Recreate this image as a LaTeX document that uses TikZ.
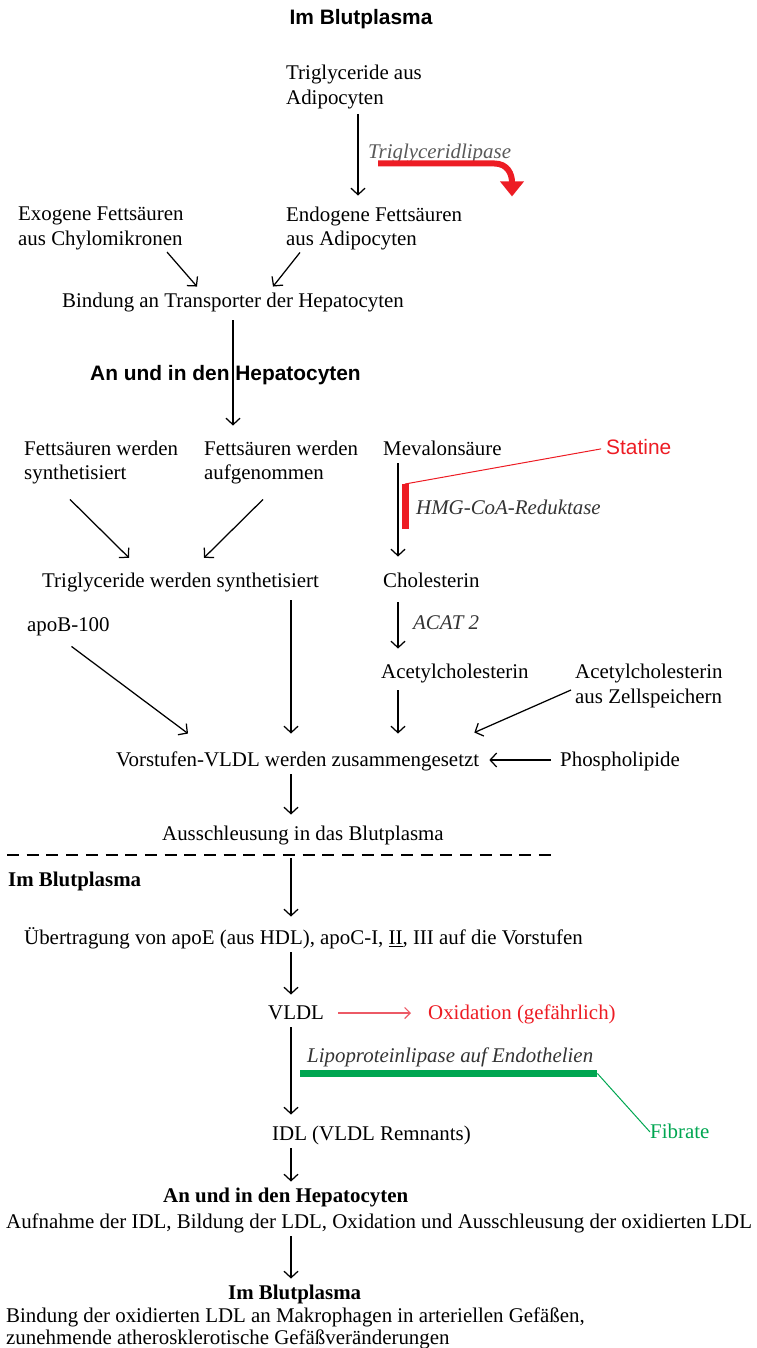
\documentclass[tikz,border=0pt]{standalone}
\usepackage{fontspec}
\setmainfont{Liberation Serif}
\setsansfont{Liberation Sans}
\usetikzlibrary{arrows.meta}
\definecolor{statred}{RGB}{237,28,36}
\definecolor{oxred}{RGB}{236,90,102}
\definecolor{fibgreen}{RGB}{0,166,81}
\newcommand{\bodyfont}{\fontsize{20.9}{24.5}\selectfont}

\begin{document}
\begin{tikzpicture}[
    x=1pt, y=-1pt,
    every node/.style={inner xsep=0pt, inner ysep=5pt, font=\bodyfont},
    txt/.style={anchor=west, text height=16pt, text depth=2.5pt},
    txtm/.style={anchor=west, align=left},
    enz/.style={txt, font=\bodyfont\itshape, text=black!80},
    head/.style={txt, font=\bodyfont\sffamily\bfseries},
    headrm/.style={txt, font=\bodyfont\bfseries},
    arrow/.style={-{Straight Barb[length=6.5pt,width=14pt]}, line width=1.25pt},
    inhib/.style={line width=7pt}
  ]
  \useasboundingbox (0,0) rectangle (756,1348);

  % columns of the vertical arrows
  \coordinate (tx) at (358,0);
  \coordinate (bx) at (233,0);
  \coordinate (cx) at (398,0);
  \coordinate (ax) at (291,0);

  \node[head, anchor=center] (blut1) at (361,18) {Im Blutplasma};
  \node[txtm] (tgadipo) at (286,87) {Triglyceride aus\\Adipocyten};
  \node[enz, text=black!65] (tglip) at (368,152) {Triglyceridlipase};
  \node[txtm] (exo) at (18,228.5) {Exogene Fettsäuren\\aus Chylomikronen};
  \node[txtm] (endo) at (286,228.5) {Endogene Fettsäuren\\aus Adipocyten};
  \node[txt] (bind) at (62,301) {Bindung an Transporter der Hepatocyten};
  \node[head] (hep1) at (90,374) {An und in den Hepatocyten};

  \node[txtm] (fssyn) at (24,462.5) {Fettsäuren werden\\synthetisiert};
  \node[txtm] (fsauf) at (204,462.5) {Fettsäuren werden\\aufgenommen};
  \node[txt] (meval) at (383,449) {Mevalonsäure};
  \node[txt, font=\bodyfont\sffamily, text=statred] (statine) at (606,448) {Statine};
  \node[enz] (hmg) at (416,508) {HMG-CoA-Reduktase};
  \node[txt] (tgsyn) at (42,581) {Triglyceride werden synthetisiert};
  \node[txt] (chol) at (383,581) {Cholesterin};
  \node[txt] (apob) at (27,625) {apoB-100};
  \node[enz] (acat) at (413,623) {ACAT 2};
  \node[txt] (acetyl) at (381,672) {Acetylcholesterin};
  \node[txtm] (acetzell) at (575,686) {Acetylcholesterin\\aus Zellspeichern};
  \node[txt] (vorst) at (116,760) {Vorstufen-VLDL werden zusammengesetzt};
  \node[txt] (phospho) at (560,760) {Phospholipide};
  \node[txt] (aussch) at (162,834) {Ausschleusung in das Blutplasma};

  \node[headrm] (blut2) at (8,880) {Im Blutplasma};
  \node[txt] (uebertr) at (24,938) {Übertragung von apoE (aus HDL), apoC-I, \underline{II}, III auf die Vorstufen};
  \node[txt] (vldl) at (268,1013) {VLDL};
  \node[txt, text=statred] (oxid) at (428,1013) {Oxidation (gefährlich)};
  \node[enz] (lpl) at (307,1056) {Lipoproteinlipase auf Endothelien};
  \node[txt, text=fibgreen] (fibrate) at (650,1132) {Fibrate};
  \node[txt] (idl) at (272,1134) {IDL (VLDL Remnants)};
  \node[headrm] (hep2) at (163,1196) {An und in den Hepatocyten};
  \node[txt] (aufn) at (6,1222) {Aufnahme der IDL, Bildung der LDL, Oxidation und Ausschleusung der oxidierten LDL};
  \node[headrm] (blut3) at (228,1293) {Im Blutplasma};
  \node[txtm, font=\fontsize{20.9}{22}\selectfont] (makro) at (6,1328.5) {Bindung der oxidierten LDL an Makrophagen in arteriellen Gefäßen,\\zunehmende atherosklerotische Gefäßveränderungen};

  % Blutplasma oben
  \draw[arrow, shorten >=6pt] (tgadipo.south -| tx) -- (endo.north -| tx);
  \draw[statred, line width=6pt, -{Triangle[length=15pt,width=23pt]}]
    ([xshift=10pt,yshift=3pt]tglip.south west) -- ++(116,0) .. controls +(14,0) and +(0,-22) .. ++(18,33);
  \draw[arrow] ([xshift=149pt,yshift=3pt]exo.south west) -- ([xshift=135pt]bind.north west);
  \draw[arrow] ([xshift=14pt,yshift=3pt]endo.south west) -- ([xshift=211pt]bind.north west);
  \draw[arrow, shorten <=5pt, shorten >=10pt] (bind.south -| bx) -- (fsauf.north -| bx);

  % Hepatocyten
  \draw[arrow] ([xshift=46pt,yshift=-10pt]fssyn.south west) -- ([xshift=87pt,yshift=8.75pt]tgsyn.north west);
  \draw[arrow] ([xshift=59pt,yshift=-10pt]fsauf.south west) -- ([xshift=162pt,yshift=8.75pt]tgsyn.north west);
  \draw[arrow, shorten >=10pt] (meval.south -| cx) -- (chol.north -| cx);
  \draw[statred, line width=1pt, shorten <=5pt] (statine.west) -- ([xshift=-11pt,yshift=24pt]hmg.west);
  \draw[statred, inhib] ([xshift=-11pt,yshift=24pt]hmg.west) -- ([xshift=-11pt,yshift=-21pt]hmg.west);
  \draw[arrow, shorten <=7pt, shorten >=9pt] (chol.south -| cx) -- (acetyl.north -| cx);
  \draw[arrow, shorten <=4pt, shorten >=12pt] (acetyl.south -| cx) -- (vorst.north -| cx);
  \draw[arrow, shorten <=5pt, shorten >=12pt] (tgsyn.south -| ax) -- (vorst.north -| ax);
  \draw[arrow] ([xshift=44.5pt,yshift=-7pt]apob.south west) -- ([xshift=72pt,yshift=12pt]vorst.north west);
  \draw[arrow] ([xshift=-4pt,yshift=-4pt]acetzell.west) -- ([xshift=-5pt,yshift=13pt]vorst.north east);
  \draw[arrow, shorten <=9pt, shorten >=10pt] (phospho.west) -- (vorst.east);
  \draw[arrow, shorten >=5pt] (vorst.south -| ax) -- (aussch.north -| ax);

  \draw[line width=1.3pt, dash pattern=on 12pt off 7.7pt] (7,855) -- (556,855);

  % Blutplasma unten
  \draw[arrow, shorten <=10pt, shorten >=7pt] (aussch.south -| ax) -- (uebertr.north -| ax);
  \draw[arrow, shorten >=4pt] (uebertr.south -| ax) -- (vldl.north -| ax);
  \draw[oxred, line width=1.2pt, -{Straight Barb[length=5.5pt,width=11pt]}, shorten <=14pt, shorten >=17pt] (vldl.east) -- (oxid.west);
  \draw[arrow, shorten >=5pt] (vldl.south -| ax) -- (idl.north -| ax);
  \draw[fibgreen, inhib] ([xshift=-7pt,yshift=-3pt]lpl.south west) -- ([xshift=4pt,yshift=-3pt]lpl.south east);
  \draw[fibgreen, line width=1pt] ([xshift=4pt,yshift=-3pt]lpl.south east) -- (fibrate.west);
  \draw[arrow] (idl.south -| ax) -- (hep2.north -| ax);
  \draw[arrow] (aufn.south -| ax) -- (blut3.north -| ax);
\end{tikzpicture}
\end{document}
